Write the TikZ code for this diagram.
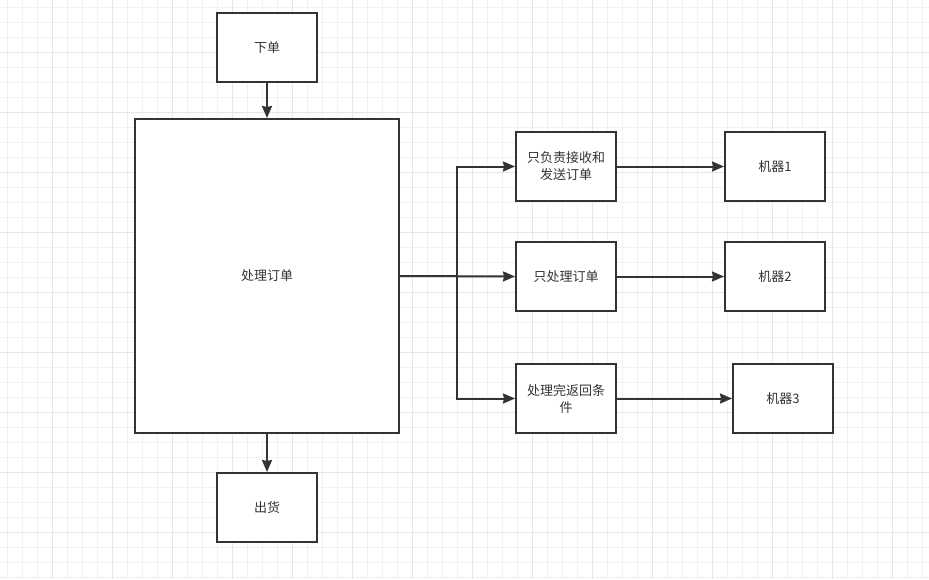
\documentclass[tikz,border=0pt]{standalone}
\usepackage{fontspec}
\newfontfamily\cjk{Noto Sans CJK SC}
\usetikzlibrary{arrows.meta}
\definecolor{ln}{HTML}{333333}
\definecolor{gridminor}{HTML}{F1F1F1}
\definecolor{gridmajor}{HTML}{E6E6E6}
\begin{document}
\begin{tikzpicture}[x=1pt,y=-1pt,
  box/.style={draw=ln, line width=2pt, fill=white, minimum width=100pt, minimum height=69pt, inner sep=0pt, font=\cjk\fontsize{13}{17}\selectfont, text=ln, align=center},
  conn/.style={draw=ln, line width=2pt, -{Stealth[length=12pt,width=10pt,inset=1pt]}}]
\fill[white] (0,0) rectangle (929,579);
\useasboundingbox (0,0) rectangle (929,579);
\foreach \x in {7,22,...,929} \draw[gridminor, line width=1pt] (\x,0) -- (\x,579);
\foreach \y in {7,22,...,579} \draw[gridminor, line width=1pt] (0,\y) -- (929,\y);
\foreach \x in {52,112,...,929} \draw[gridmajor, line width=1pt] (\x,0) -- (\x,579);
\foreach \y in {52,112,...,579} \draw[gridmajor, line width=1pt] (0,\y) -- (929,\y);

\node[box] (order) at (267,47.5) {下单};
\node[box, minimum width=264pt, minimum height=314pt] (proc) at (267,276) {处理订单};
\node[box] (ship) at (267,507.5) {出货};
\node[box] (b1) at (566,166.5) {只负责接收和\\发送订单};
\node[box] (b2) at (566,276.5) {只处理订单};
\node[box] (b3) at (566,398.5) {处理完返回条\\件};
\node[box] (m1) at (775,166.5) {机器1};
\node[box] (m2) at (775,276.5) {机器2};
\node[box] (m3) at (783,398.5) {机器3};

\coordinate (split) at (457,276);
\draw[conn] (order) -- (proc);
\draw[conn] (proc) -- (ship);
\draw[conn] (proc.east) -- (b2.west);
\draw[conn] (split) |- (b1.west);
\draw[conn] (split) |- (b3.west);
\draw[conn] (b1) -- (m1);
\draw[conn] (b2) -- (m2);
\draw[conn] (b3) -- (m3);
\end{tikzpicture}
\end{document}
